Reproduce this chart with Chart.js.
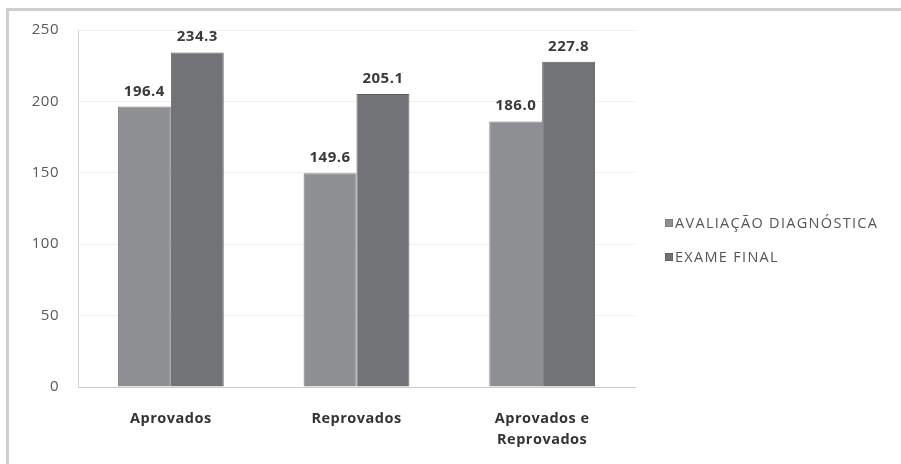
<!DOCTYPE html>
<html>
<head>
<meta charset="utf-8">
<script src="https://cdn.jsdelivr.net/npm/chart.js@4"></script>
<style>
  html, body { margin: 0; padding: 0; background: #fff; }
  #wrap { position: relative; width: 901px; height: 464px; }
  #frame { position: absolute; left: 6px; top: 8px; right: 0; bottom: 0;
           border-top: 3px solid #cfcfcf; border-left: 3px solid #cfcfcf; }
  canvas { position: absolute; left: 0; top: 0; }
</style>
</head>
<body>
<div id="wrap">
  <div id="frame"></div>
  <canvas id="grafico" width="901" height="464"></canvas>
</div>
<script>
// categorias e valores
const categorias = ['Aprovados', 'Reprovados', ['Aprovados e', 'Reprovados']];
const avaliacaoDiagnostica = [196.4, 149.6, 186.0];
const exameFinal = [234.3, 205.1, 227.8];
const nomesSeries = ['AVALIAÇÃO DIAGNÓSTICA', 'EXAME FINAL'];
const ticksY = [0, 50, 100, 150, 200, 250];

// espaçamento entre letras (texto do original é um pouco mais largo)
const espacoPlugin = {
  id: 'espaco',
  beforeDraw(chart) { chart.ctx.letterSpacing = '0.5px'; }
};

// rótulos de valor em cima das barras
const rotulosPlugin = {
  id: 'rotulos',
  afterDatasetsDraw(chart) {
    const ctx = chart.ctx;
    ctx.save();
    ctx.letterSpacing = '0.5px';
    ctx.font = 'bold 15px "Open Sans", sans-serif';
    ctx.fillStyle = '#3a3a3a';
    ctx.textAlign = 'center';
    ctx.textBaseline = 'alphabetic';
    chart.data.datasets.forEach((ds, i) => {
      chart.getDatasetMeta(i).data.forEach((bar, j) => {
        ctx.fillText(ds.data[j].toFixed(1), bar.x, bar.y - 11);
      });
    });
    ctx.restore();
  }
};

// legenda à direita, desenhada à mão
const legendaPlugin = {
  id: 'legenda',
  afterDraw(chart) {
    const ctx = chart.ctx;
    ctx.save();
    ctx.letterSpacing = '1.3px';
    ctx.font = '14.5px "Open Sans", sans-serif';
    ctx.textBaseline = 'middle';
    chart.data.datasets.forEach((ds, i) => {
      const y = 223 + i * 34;
      ctx.fillStyle = ds.backgroundColor;
      ctx.fillRect(665, y - 4, 8, 8);
      ctx.strokeStyle = ds.borderColor;
      ctx.strokeRect(665.5, y - 3.5, 7, 7);
      ctx.fillStyle = '#555555';
      ctx.fillText(ds.label, 675, y + 1);
    });
    ctx.restore();
  }
};

const ctx = document.getElementById('grafico').getContext('2d');
const grafico = new Chart(ctx, {
  type: 'bar',
  data: {
    labels: categorias,
    datasets: [{
      label: nomesSeries[0],
      data: avaliacaoDiagnostica,
      backgroundColor: '#8e8f93',
      borderColor: '#7c7d81',
      borderWidth: 1,
      categoryPercentage: 0.57,
      barPercentage: 1.0
    }, {
      label: nomesSeries[1],
      data: exameFinal,
      backgroundColor: '#727377',
      borderColor: '#606165',
      borderWidth: 1,
      categoryPercentage: 0.57,
      barPercentage: 1.0
    }]
  },
  options: {
    responsive: false,
    animation: false,
    layout: { padding: { top: 30, right: 266, left: 0, bottom: 0 } },
    plugins: {
      legend: { display: false },
      tooltip: { enabled: false }
    },
    scales: {
      x: {
        grid: { display: false, drawTicks: false },
        border: { color: '#cccccc', width: 1 },
        ticks: {
          color: '#333333',
          padding: 21,
          font: { family: '"Open Sans", sans-serif', size: 14.5, weight: 'bold', lineHeight: 1.45 }
        },
        afterFit(scale) { scale.height = 77; }
      },
      y: {
        min: 0,
        max: 250,
        afterBuildTicks(scale) { scale.ticks = ticksY.map(v => ({ value: v })); },
        grid: { color: '#efefef', drawTicks: false },
        border: { color: '#d4d4d4', width: 1 },
        ticks: {
          color: '#595959',
          padding: 19,
          font: { family: '"Open Sans", sans-serif', size: 15 }
        },
        afterFit(scale) { scale.width = 78; }
      }
    }
  },
  plugins: [espacoPlugin, rotulosPlugin, legendaPlugin]
});
</script>
</body>
</html>
